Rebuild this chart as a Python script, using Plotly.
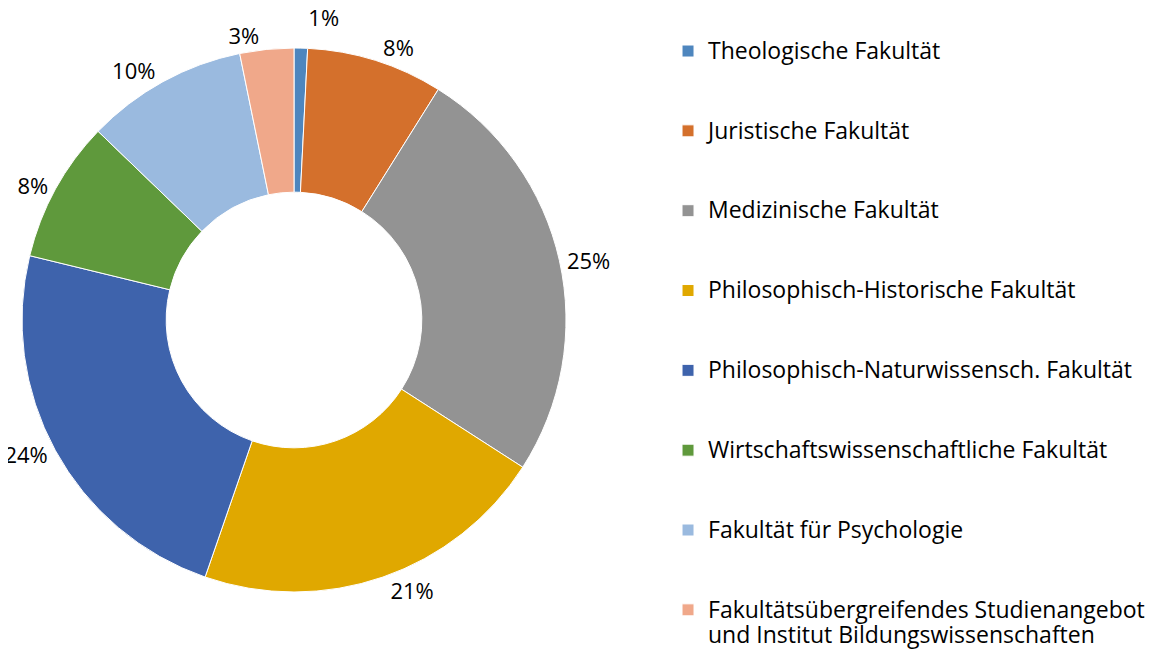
import plotly.graph_objects as go

categories = [
    "Theologische Fakultät",
    "Juristische Fakultät",
    "Medizinische Fakultät",
    "Philosophisch-Historische Fakultät",
    "Philosophisch-Naturwissensch. Fakultät",
    "Wirtschaftswissenschaftliche Fakultät",
    "Fakultät für Psychologie",
    "Fakultätsübergreifendes Studienangebot<br>und Institut Bildungswissenschaften",
]
shares = [0.8, 8.1, 25.2, 21.2, 23.5, 8.4, 9.6, 3.2]
colors = ["#4E86BE", "#D4702C", "#939393", "#E0A800", "#3E63AC", "#5F993C", "#9ABADF", "#F0A88A"]

FONT = "Open Sans"
W, H = 1169, 659
# pie placement in figure pixels (page body adds an 8px offset)
cx, cy, R = 286, 312, 272

# legend entries: visible text in a larger span, padded with blank lines for spacing
def legend_label(c):
    lines = c.split("<br>")
    body = "<br>".join(f"<span style='font-size:23px'>{l}</span>" for l in lines)
    return body if len(lines) > 1 else body + "<br> <br> "

legend_labels = [legend_label(c) for c in categories]

fig = go.Figure(go.Pie(
    labels=legend_labels,
    values=shares,
    sort=False,
    direction="clockwise",
    rotation=0,
    hole=0.47,
    marker=dict(colors=colors, line=dict(color="white", width=1)),
    textinfo="percent",
    texttemplate="<span style='color:#000000'>%{percent:.0%}</span>",
    textposition="outside",
    outsidetextfont=dict(family=FONT, size=22, color="#FFFFFF"),
    hoverinfo="label+percent",
    domain=dict(x=[(cx - R) / W, (cx + R) / W], y=[(H - cy - R) / H, (H - cy + R) / H]),
))

fig.update_layout(
    width=W, height=H,
    margin=dict(l=0, r=0, t=0, b=0, autoexpand=False),
    paper_bgcolor="white",
    showlegend=True,
    legend=dict(
        x=0.5646, y=0.964, xanchor="left", yanchor="top",
        font=dict(family=FONT, size=19.7, color="#000000"),
        valign="top",
        tracegroupgap=0,
    ),
    font=dict(family=FONT),
)

fig.write_html("out.html")
